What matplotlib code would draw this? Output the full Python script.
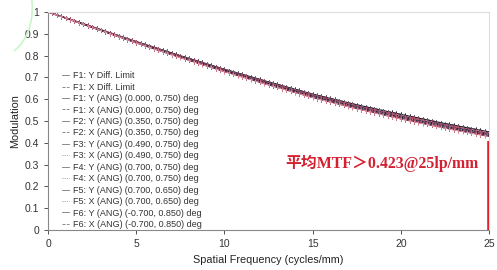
import matplotlib
matplotlib.use("Agg")
import matplotlib.pyplot as plt
import numpy as np
from matplotlib.patches import Arc
from matplotlib.lines import Line2D

plt.rcParams['font.family'] = ['Liberation Sans', 'DejaVu Sans']

freq = [0, 2.5, 5, 7.5, 10, 12.5, 15, 17.5, 20, 22.5, 25]
labels = [
    "F1: Y Diff. Limit",
    "F1: X Diff. Limit",
    "F1: Y (ANG) (0.000, 0.750) deg",
    "F1: X (ANG) (0.000, 0.750) deg",
    "F2: Y (ANG) (0.350, 0.750) deg",
    "F2: X (ANG) (0.350, 0.750) deg",
    "F3: Y (ANG) (0.490, 0.750) deg",
    "F3: X (ANG) (0.490, 0.750) deg",
    "F4: Y (ANG) (0.700, 0.750) deg",
    "F4: X (ANG) (0.700, 0.750) deg",
    "F5: Y (ANG) (0.700, 0.650) deg",
    "F5: X (ANG) (0.700, 0.650) deg",
    "F6: Y (ANG) (-0.700, 0.850) deg",
    "F6: X (ANG) (-0.700, 0.850) deg",
]
diff_y = [1.0, 0.932, 0.864, 0.799, 0.737, 0.679, 0.623, 0.574, 0.530, 0.488, 0.450]
diff_x = [1.0, 0.932, 0.864, 0.799, 0.737, 0.679, 0.623, 0.574, 0.530, 0.488, 0.450]
f1_y = [1.0, 0.931, 0.862, 0.796, 0.734, 0.675, 0.619, 0.569, 0.524, 0.482, 0.444]
f1_x = [1.0, 0.931, 0.862, 0.796, 0.734, 0.675, 0.619, 0.569, 0.524, 0.482, 0.444]
f2_y = [1.0, 0.931, 0.861, 0.795, 0.733, 0.674, 0.617, 0.567, 0.522, 0.480, 0.442]
f2_x = [1.0, 0.931, 0.861, 0.795, 0.732, 0.673, 0.616, 0.566, 0.521, 0.479, 0.441]
f3_y = [1.0, 0.930, 0.860, 0.794, 0.731, 0.671, 0.614, 0.564, 0.518, 0.476, 0.438]
f3_x = [1.0, 0.930, 0.860, 0.793, 0.730, 0.670, 0.613, 0.563, 0.517, 0.475, 0.437]
f4_y = [1.0, 0.929, 0.858, 0.791, 0.727, 0.666, 0.608, 0.557, 0.510, 0.468, 0.430]
f4_x = [1.0, 0.929, 0.858, 0.791, 0.726, 0.665, 0.607, 0.556, 0.509, 0.467, 0.429]
f5_y = [1.0, 0.929, 0.859, 0.792, 0.728, 0.668, 0.610, 0.559, 0.513, 0.471, 0.433]
f5_x = [1.0, 0.929, 0.859, 0.792, 0.728, 0.667, 0.609, 0.558, 0.512, 0.470, 0.432]
f6_y = [1.0, 0.929, 0.858, 0.791, 0.727, 0.666, 0.608, 0.557, 0.510, 0.468, 0.430]
f6_x = [1.0, 0.929, 0.858, 0.790, 0.726, 0.665, 0.607, 0.556, 0.509, 0.467, 0.428]
series = [diff_y, diff_x, f1_y, f1_x, f2_y, f2_x, f3_y, f3_x, f4_y, f4_x, f5_y, f5_x, f6_y, f6_x]
colors = ["#1a1a1a", "#2a2a40", "#e06070", "#c04060", "#302850", "#d07080",
          "#202040", "#f08090", "#402040", "#e07a88", "#282838", "#c85a70",
          "#5a3050", "#e890a0"]
styles = ["-", "--", "-", "--", "-", "--", "-", ":", "-", ":", "-", ":", "-", "--"]

annot_text = "平均MTF＞0.423@25lp/mm"
annot_value = 0.41

fig = plt.figure(figsize=(4.97, 2.70), dpi=100)
ax = fig.add_axes([0.0966, 0.148, 0.8874, 0.808])

fine = np.linspace(0, 25, 101)
for s, lab, c, ls in zip(series, labels, colors, styles):
    yi = np.interp(fine, freq, s)
    ax.plot(fine, yi, color=c, lw=0.8, ls=ls, label=lab,
            marker="|", markersize=3.0, markevery=1, markeredgewidth=0.6)

ax.plot([25, 25], [0, annot_value], color="#e0202a", lw=2.6, solid_capstyle="butt", zorder=5)
ax.text(0.537, 0.307, annot_text, transform=ax.transAxes, color="#d42030",
        fontsize=11.4, fontweight="bold", va="center", ha="left",
        family=["Liberation Serif", "Noto Sans CJK SC"])

ax.set_xlim(0, 25)
ax.set_ylim(0, 1)
ax.set_xticks([0, 5, 10, 15, 20, 25])
ax.set_yticks([0, 0.1, 0.2, 0.3, 0.4, 0.5, 0.6, 0.7, 0.8, 0.9, 1])
ax.set_yticklabels(["0", "0.1", "0.2", "0.3", "0.4", "0.5", "0.6", "0.7", "0.8", "0.9", "1"])
ax.tick_params(labelsize=7.5, colors="#333333", length=3, width=0.6)
for sp in ["left", "bottom"]:
    ax.spines[sp].set_color("#888888")
    ax.spines[sp].set_linewidth(0.8)
for sp in ["top", "right"]:
    ax.spines[sp].set_color("#dddddd")
    ax.spines[sp].set_linewidth(0.8)
ax.set_xlabel("Spatial Frequency (cycles/mm)", fontsize=7.8, color="#222222", labelpad=4)
ax.set_ylabel("Modulation", fontsize=7.8, color="#222222", labelpad=3)

hnd = [Line2D([], [], color="#777777", lw=0.6, ls=ls) for ls in styles]
leg = ax.legend(hnd, labels, loc="lower left", bbox_to_anchor=(0.02, -0.02), frameon=False,
                fontsize=6.5, handlelength=0.8, handletextpad=0.4, labelspacing=0.27,
                borderaxespad=0.2, labelcolor="#333333")

arc = Arc((0.0, 0.97), 0.13, 0.35, theta1=-80, theta2=60, transform=fig.transFigure,
          color="#c8f5c8", lw=1.2)
fig.patches.append(arc)

fig.savefig("out.png", dpi=100)
